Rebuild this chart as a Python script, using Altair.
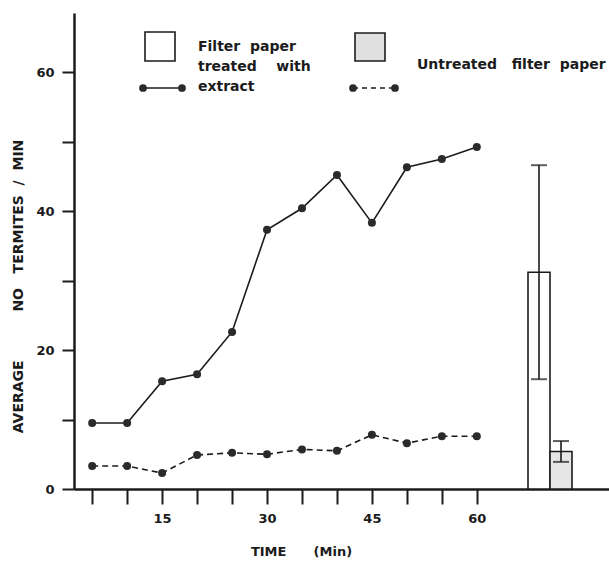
import altair as alt
import pandas as pd

# Termite counts per minute, sampled every 5 minutes
minutes = [5, 10, 15, 20, 25, 30, 35, 40, 45, 50, 55, 60]
treated = [9.5, 9.5, 15.5, 16.5, 22.6, 37.3, 40.4, 45.2, 38.3, 46.3, 47.5, 49.2]
untreated = [3.3, 3.3, 2.3, 4.9, 5.2, 5.0, 5.7, 5.5, 7.8, 6.6, 7.6, 7.6]

# Overall means with error ranges
bar_groups = ["Filter paper treated with extract", "Untreated filter paper"]
bar_means = [31.2, 5.4]
bar_errors = [15.4, 1.5]

y_ticks = [0, 10, 20, 30, 40, 50, 60]

INK = "#1b1b1b"
FONT = "DejaVu Sans"
NB = "\u00a0"

lines_df = pd.DataFrame({"minute": minutes, "treated": treated, "untreated": untreated})
bars_df = pd.DataFrame({"group": bar_groups, "mean": bar_means, "err": bar_errors})

y_scale = alt.Scale(domain=[0, 68.5], nice=False, zero=True)
x_scale = alt.Scale(domain=[2.4, 78.9], nice=False, zero=False)

x_axis = alt.Axis(
    values=minutes,
    labelExpr="datum.value % 15 == 0 ? datum.label : ''",
    grid=False, tickSize=15, tickWidth=2, tickColor=INK,
    domainWidth=2.5, domainColor=INK,
    labelFont=FONT, labelFontSize=13, labelFontWeight="bold", labelColor=INK,
    labelPadding=8, labelFlush=False,
    title=f"TIME{NB * 6}(Min)",
    titleFont=FONT, titleFontSize=13, titleFontWeight="bold", titleColor=INK,
    titleX=227, titleY=62, titleAlign="center", titleBaseline="middle",
)
y_axis = alt.Axis(
    values=y_ticks,
    labelExpr="datum.value % 20 == 0 ? datum.label : ''",
    grid=False, tickSize=12, tickWidth=2, tickColor=INK,
    domainWidth=2.5, domainColor=INK,
    labelFont=FONT, labelFontSize=13, labelFontWeight="bold", labelColor=INK,
    labelPadding=8,
    title=f"AVERAGE{NB * 10}NO{NB * 3}TERMITES{NB * 2}/{NB * 2}MIN",
    titleFont=FONT, titleFontSize=14, titleFontWeight="bold", titleColor=INK,
    titleAngle=270, titleX=-56, titleY=273, titleAlign="center", titleBaseline="middle",
)

base = alt.Chart(lines_df)
x_time = alt.X("minute:Q", scale=x_scale, axis=x_axis)

treated_line = base.mark_line(color=INK, strokeWidth=1.6).encode(
    x=x_time,
    y=alt.Y("treated:Q", scale=y_scale, axis=y_axis),
)
treated_pts = base.mark_circle(size=64, color="#2a2a2a", opacity=1).encode(
    x=x_time, y=alt.Y("treated:Q", scale=y_scale, axis=y_axis)
)
untreated_line = base.mark_line(color=INK, strokeWidth=1.6, strokeDash=[6, 4]).encode(
    x=x_time, y=alt.Y("untreated:Q", scale=y_scale, axis=y_axis)
)
untreated_pts = base.mark_circle(size=64, color="#2a2a2a", opacity=1).encode(
    x=x_time, y=alt.Y("untreated:Q", scale=y_scale, axis=y_axis)
)
series = alt.layer(treated_line, untreated_line, treated_pts, untreated_pts)

# Summary bars placed to the right of the time series
band = alt.Scale(domain=bar_groups, range=[454, 498], paddingInner=0, paddingOuter=0)
x_band = alt.X("group:N", scale=band, axis=None)
bar_base = alt.Chart(bars_df).transform_calculate(
    lo="datum.mean - datum.err", hi="datum.mean + datum.err"
)
bars = bar_base.mark_bar(stroke=INK, strokeWidth=1.6).encode(
    x=x_band,
    y=alt.Y("mean:Q", scale=y_scale, axis=y_axis),
    fill=alt.Fill("group:N", scale=alt.Scale(domain=bar_groups, range=["white", "#e6e6e6"]), legend=None),
)
whisk = bar_base.mark_rule(color=INK, strokeWidth=1.6).encode(
    x=x_band, y=alt.Y("lo:Q", scale=y_scale, axis=y_axis), y2="hi:Q",
)
cap_lo = bar_base.mark_tick(color=INK, size=16, thickness=2).encode(
    x=x_band, y=alt.Y("lo:Q", scale=y_scale, axis=y_axis)
)
cap_hi = bar_base.mark_tick(color=INK, size=16, thickness=2).encode(
    x=x_band, y=alt.Y("hi:Q", scale=y_scale, axis=y_axis)
)
summary = alt.layer(bars, whisk, cap_lo, cap_hi)

# Hand-drawn style key
one = alt.Chart(pd.DataFrame({"k": [0]}))


def key_box(x1, x2, y1, y2, fill):
    return one.mark_rect(fill=fill, stroke=INK, strokeWidth=1.6).encode(
        x=alt.value(x1), x2=alt.value(x2), y=alt.value(y1), y2=alt.value(y2)
    )


def key_text(s, x, y):
    return one.mark_text(
        text=s, align="left", baseline="middle", font=FONT, fontSize=14,
        fontWeight="bold", color=INK,
    ).encode(x=alt.value(x), y=alt.value(y))


def key_dot(x, y):
    return one.mark_circle(size=60, color="#2a2a2a", opacity=1).encode(
        x=alt.value(x), y=alt.value(y)
    )


def key_line(x1, x2, y, dash=None):
    kw = {"strokeDash": dash} if dash else {}
    return one.mark_rule(color=INK, strokeWidth=1.6, **kw).encode(
        x=alt.value(x1), x2=alt.value(x2), y=alt.value(y)
    )


key = alt.layer(
    key_box(71, 101, 19, 48, "white"),
    key_box(281, 311, 20, 48, "#e0e0e0"),
    key_text(f"Filter{NB * 2}paper", 124, 34),
    key_text(f"treated{NB * 4}with", 124, 54),
    key_text("extract", 124, 74),
    key_text(f"Untreated{NB * 3}filter{NB * 2}paper", 343, 52),
    key_line(69, 108, 75),
    key_dot(69, 75), key_dot(108, 75),
    key_line(279, 321, 75, [5, 4]),
    key_dot(279, 75), key_dot(321, 75),
)

chart = alt.layer(series, summary, key).resolve_scale(x="independent").properties(
    width=535, height=476,
    autosize=alt.AutoSizeParams(type="none"),
    padding={"left": 74, "top": 13, "right": 0, "bottom": 73},
    background="white",
).configure_view(stroke=None)

chart.save("out.html", embed_options={"renderer": "svg", "actions": False})
